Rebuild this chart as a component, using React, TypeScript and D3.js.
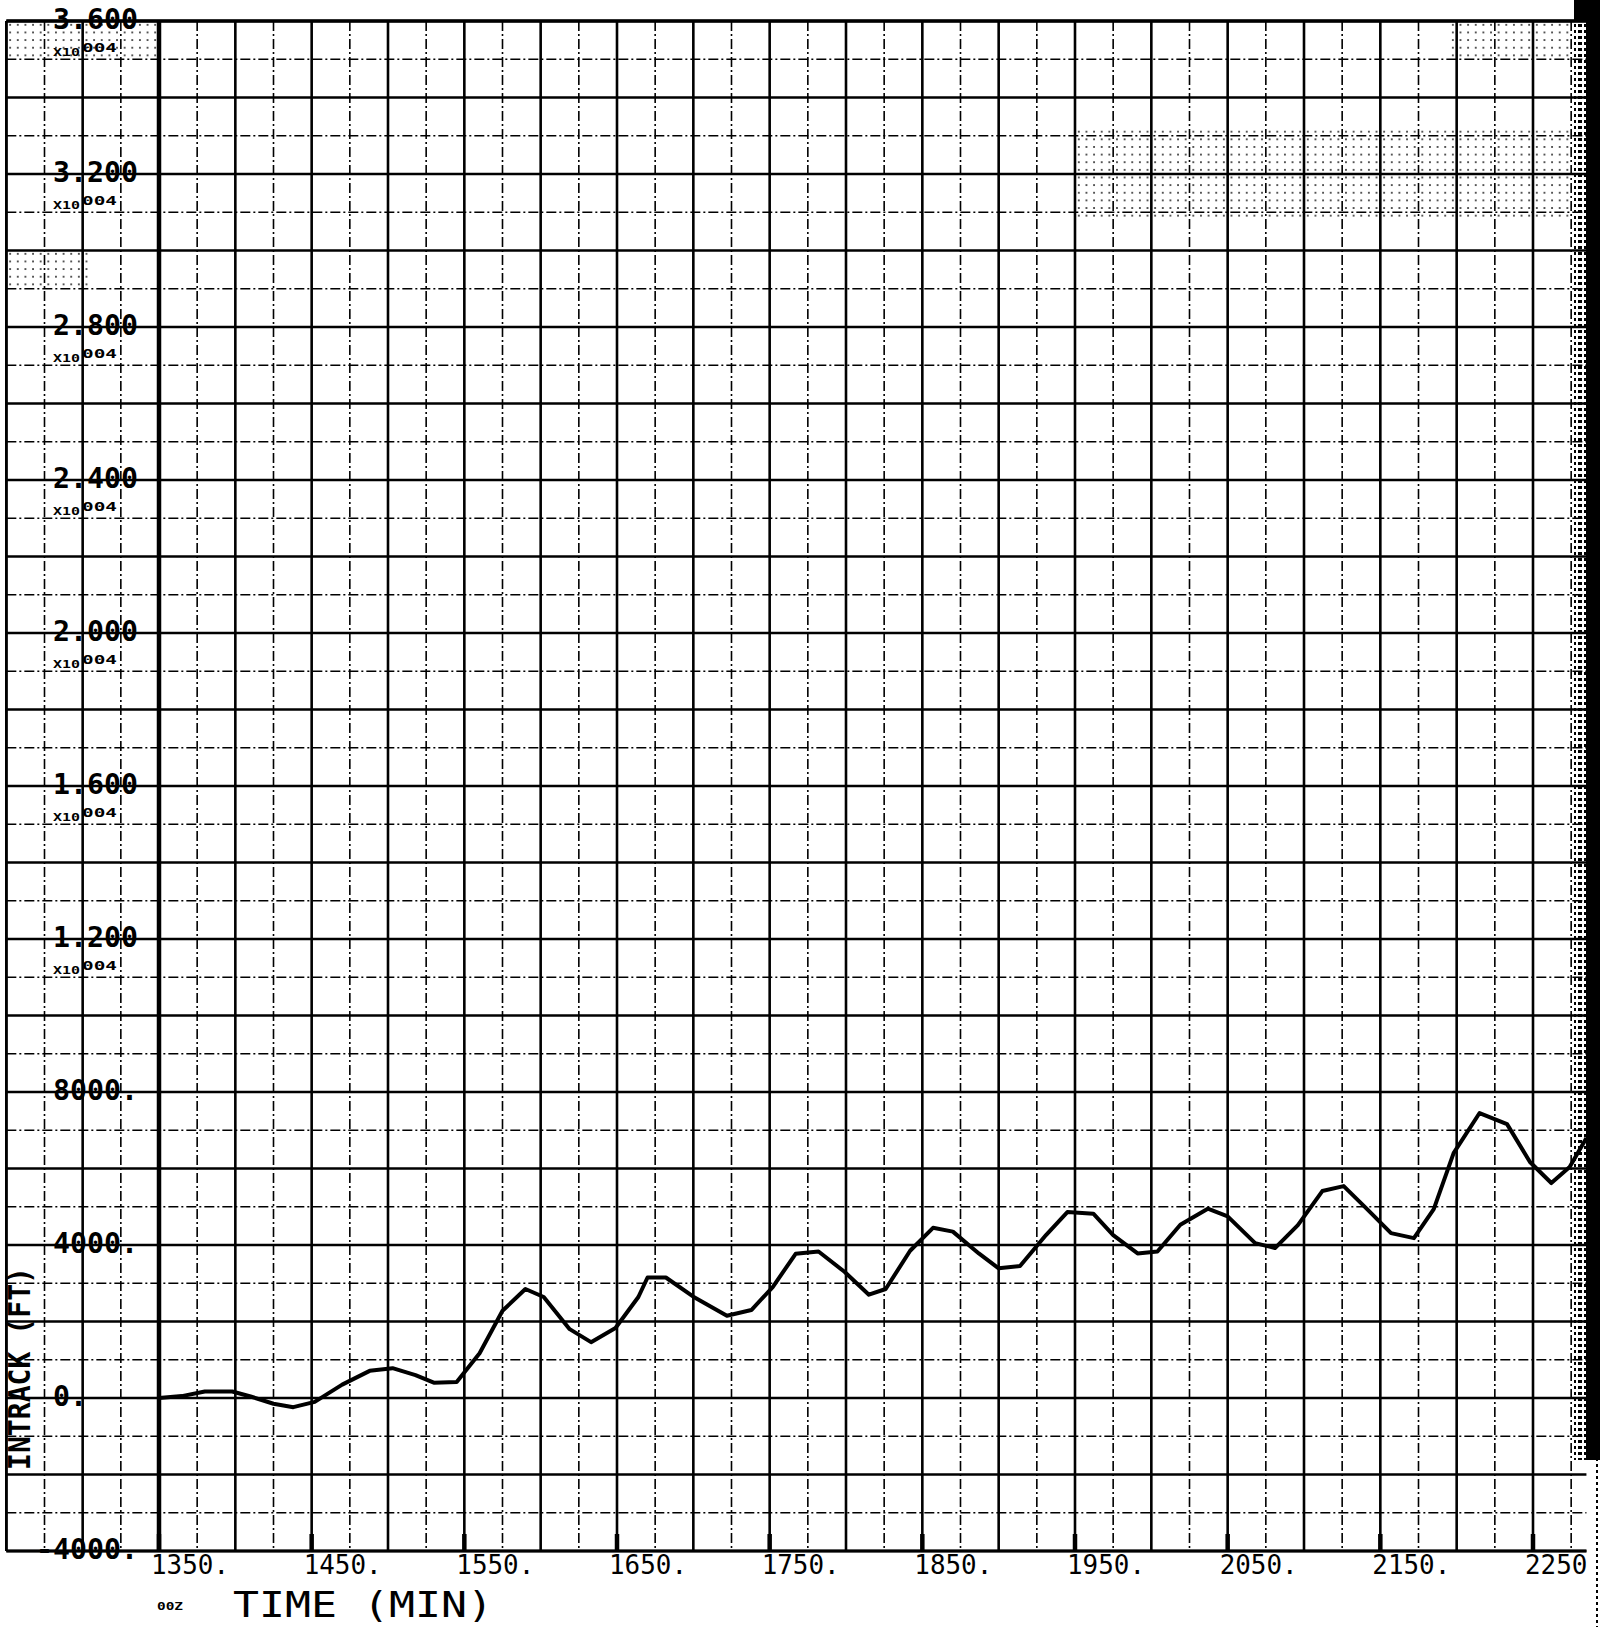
import * as d3 from "d3";

// time (min) vs intrack (ft)
const times = [
  1350, 1365, 1380, 1398, 1410, 1425, 1438, 1452, 1470, 1488, 1503, 1518, 1530, 1545,
  1560, 1575, 1590, 1602, 1619, 1633, 1649, 1664, 1670, 1682, 1700, 1722, 1738, 1752,
  1767, 1782, 1799, 1815, 1826, 1842, 1857, 1870, 1887, 1900, 1914, 1931, 1945, 1962,
  1975, 1991, 2004, 2019, 2037, 2050, 2068, 2081, 2096, 2112, 2126, 2141, 2157, 2172,
  2185, 2198, 2215, 2233, 2248, 2262, 2274, 2285,
];
const intrack = [
  0, 50, 170, 170, 40, -150, -240, -100, 350, 710, 780, 600, 400, 420,
  1170, 2280, 2850, 2640, 1800, 1460, 1830, 2640, 3150, 3150, 2650, 2150, 2300, 2900,
  3770, 3830, 3300, 2700, 2850, 3850, 4450, 4350, 3780, 3390, 3450, 4260, 4860, 4820,
  4260, 3780, 3830, 4530, 4950, 4750, 4050, 3920, 4520, 5410, 5540, 4950, 4310, 4180,
  4940, 6400, 7450, 7160, 6170, 5620, 6040, 6800,
];

const yTickValues = [36000, 32000, 28000, 24000, 20000, 16000, 12000, 8000, 4000, 0, -4000];
const yTickLabels = ["3.600", "3.200", "2.800", "2.400", "2.000", "1.600", "1.200", "8000.", "4000.", "0.", "-4000."];
const yTickExp = [true, true, true, true, true, true, true, false, false, false, false];

const xTickValues = [1350, 1450, 1550, 1650, 1750, 1850, 1950, 2050, 2150, 2250];
const xTickLabels = ["1350.", "1450.", "1550.", "1650.", "1750.", "1850.", "1950.", "2050.", "2150.", "2250"];

const W = 1600;
const H = 1627;
const FONT = "'DejaVu Sans Mono', monospace";

export default function App() {
  const x = d3.scaleLinear().domain([1350, 2250]).range([159, 1533]);
  const y = d3.scaleLinear().domain([-4000, 36000]).range([1551, 21]);

  const tMin = 1250;
  const tMax = 2285;
  const left = x(tMin);
  const right = x(tMax);
  const top = y(36000);
  const bottom = y(-4000);

  const vLines = d3.range(tMin, 2276, 25);
  const hLines = d3.range(-4000, 36001, 1000);

  const line = d3
    .line<number>()
    .x((_d, i) => x(times[i]))
    .y((d) => y(d));

  const cell = (x(1375) - x(1350)) / 5;

  // patches of the fine dotted paper grid that show through the scan
  const dotPatches = [
    [1074, 130, 1574, 218],
    [1450, top, 1574, 60],
    [left, top, 160, 60],
    [left, 250, 90, 290],
  ];

  return (
    <div style={{ position: "absolute", left: 0, top: 0 }}>
      <svg width={W} height={H} viewBox={`0 0 ${W} ${H}`} style={{ display: "block", background: "#fff" }}>
        <defs>
          <pattern id="dots" patternUnits="userSpaceOnUse" x={left} y={top} width={cell} height={cell}>
            <circle cx={cell / 2} cy={cell / 2} r={0.85} fill="#000" />
          </pattern>
          <pattern id="edge" patternUnits="userSpaceOnUse" x={0} y={0} width={6} height={6}>
            <rect x={0} y={0} width={4} height={3} fill="#000" />
          </pattern>
          <clipPath id="plot">
            <rect x={left} y={top} width={right - left} height={bottom - top} />
          </clipPath>
        </defs>

        {dotPatches.map(([x0, y0, x1, y1], i) => (
          <rect key={`dp${i}`} x={x0} y={y0} width={x1 - x0} height={y1 - y0} fill="url(#dots)" />
        ))}

        {/* horizontal grid */}
        {hLines.map((v) => {
          const major = v % 2000 === 0;
          return (
            <line
              key={`h${v}`}
              x1={left}
              x2={right}
              y1={y(v)}
              y2={y(v)}
              stroke="#000"
              strokeWidth={major ? 2.6 : 1.6}
              strokeDasharray={major ? undefined : "10,3,2,3"}
            />
          );
        })}

        {/* vertical grid */}
        {vLines.map((t) => {
          const major = t % 50 === 0;
          return (
            <line
              key={`v${t}`}
              x1={x(t)}
              x2={x(t)}
              y1={top}
              y2={bottom}
              stroke="#000"
              strokeWidth={t === 1350 ? 4.5 : major ? 2.6 : 1.6}
              strokeDasharray={major ? undefined : "10,3,2,3"}
            />
          );
        })}

        {/* frame */}
        <line x1={left} x2={right} y1={top} y2={top} stroke="#000" strokeWidth={3.5} />
        <line x1={left} x2={right} y1={bottom} y2={bottom} stroke="#000" strokeWidth={3} />
        <line x1={left} x2={left} y1={top} y2={bottom} stroke="#000" strokeWidth={2.6} />

        {/* bottom tick marks */}
        {xTickValues.map((t) => (
          <line key={`xt${t}`} x1={x(t)} x2={x(t)} y1={bottom - 17} y2={bottom} stroke="#000" strokeWidth={4.5} />
        ))}

        {/* curve */}
        <path
          d={line(intrack) || ""}
          fill="none"
          stroke="#000"
          strokeWidth={4}
          strokeLinejoin="round"
          clipPath="url(#plot)"
        />

        {/* y labels */}
        {yTickValues.map((v, i) => {
          const ly = y(v);
          const label = yTickLabels[i];
          const startX = label.startsWith("-") ? 36 : 53;
          return (
            <g key={`yl${v}`}>
              <text
                x={startX}
                y={ly + 8}
                fontFamily={FONT}
                fontWeight="bold"
                fontSize={29}
                textLength={label.length * 17}
                lengthAdjust="spacingAndGlyphs"
                fill="#000"
              >
                {label}
              </text>
              {yTickExp[i] && (
                <>
                  <text
                    x={53}
                    y={ly + 35}
                    fontFamily={FONT}
                    fontWeight="bold"
                    fontSize={11}
                    textLength={27}
                    lengthAdjust="spacingAndGlyphs"
                    fill="#000"
                  >
                    X10
                  </text>
                  <text
                    x={82}
                    y={ly + 31}
                    fontFamily={FONT}
                    fontWeight="bold"
                    fontSize={12}
                    textLength={35}
                    lengthAdjust="spacingAndGlyphs"
                    fill="#000"
                  >
                    004
                  </text>
                </>
              )}
            </g>
          );
        })}

        {/* x labels */}
        {xTickValues.map((t, i) => (
          <text
            key={`xl${t}`}
            x={x(t) - 8}
            y={1574}
            fontFamily={FONT}
            fontSize={26}
            textLength={xTickLabels[i].length * 15.6}
            lengthAdjust="spacingAndGlyphs"
            fill="#000"
          >
            {xTickLabels[i]}
          </text>
        ))}

        {/* axis titles */}
        <text
          x={233}
          y={1617}
          fontFamily={FONT}
          fontSize={36}
          textLength={260}
          lengthAdjust="spacingAndGlyphs"
          fill="#000"
        >
          TIME (MIN)
        </text>
        <text
          x={157}
          y={1610}
          fontFamily={FONT}
          fontWeight="bold"
          fontSize={11}
          textLength={26}
          lengthAdjust="spacingAndGlyphs"
          fill="#000"
        >
          00Z
        </text>
        <text
          transform="translate(30,1470) rotate(-90)"
          fontFamily={FONT}
          fontWeight="bold"
          fontSize={30}
          textLength={203}
          lengthAdjust="spacingAndGlyphs"
          fill="#000"
        >
          INTRACK (FT)
        </text>

        {/* dark scanner edge on the right */}
        <rect x={1574} y={0} width={12} height={1460} fill="url(#edge)" />
        <rect x={1574} y={0} width={26} height={20} fill="#000" />
        <rect x={1586} y={0} width={14} height={1460} fill="#000" />
        <rect x={1594} y={1460} width={4} height={H - 1460} fill="url(#edge)" />
      </svg>
    </div>
  );
}
